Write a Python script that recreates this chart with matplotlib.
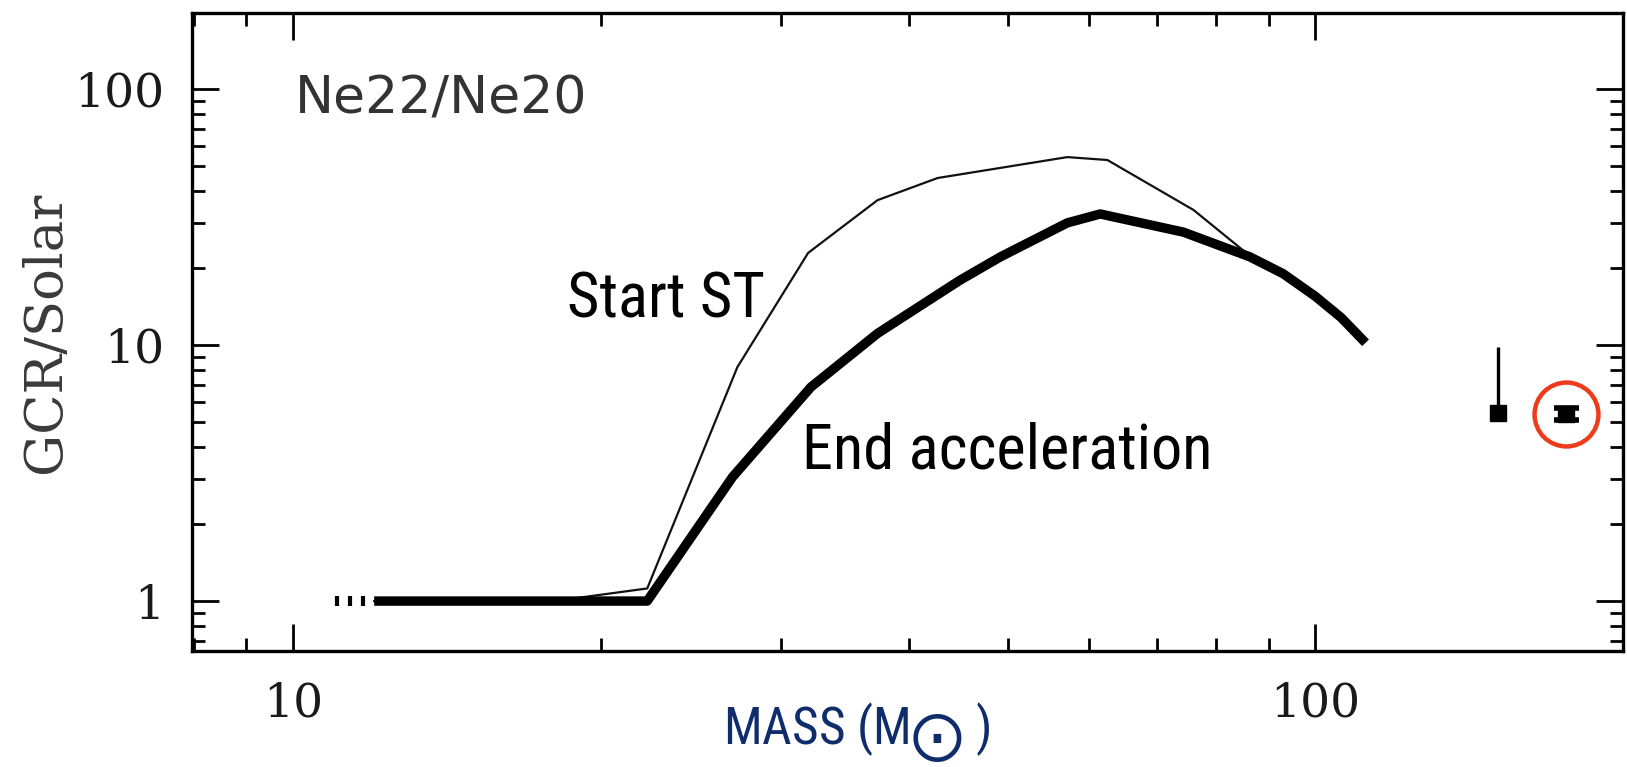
import matplotlib
matplotlib.use("Agg")
import numpy as np
import matplotlib.pyplot as plt
from matplotlib.ticker import FixedLocator, LogLocator, NullFormatter

# Ne22/Ne20 enrichment (GCR/solar) versus initial stellar mass
lead_mass = [11.04, 11.37, 11.70]
lead_ratio = [1.0, 1.0, 1.0]

start_mass = [12.0, 18.0, 22.2, 27.2, 31.9, 37.3, 42.7, 57.2, 62.6, 76.0, 86.3]
start_ratio = [1.0, 1.0, 1.12, 8.2, 22.9, 36.8, 44.9, 54.2, 52.8, 33.7, 22.3]

end_mass = [12.0, 22.2, 26.9, 32.1, 37.3, 44.9, 49.2, 57.2, 61.6,
            74.3, 86.3, 93.0, 100.0, 106.0, 112.0]
end_ratio = [1.0, 1.0, 3.05, 6.85, 11.1, 17.9, 22.1, 30.0, 32.5,
             27.6, 22.1, 19.0, 15.5, 12.8, 10.2]

# measured points: one with an upper bar, one with error bars (circled)
limit_mass, limit_ratio, limit_top = 151.0, 5.43, 9.8
meas_mass, meas_ratio, meas_lo, meas_hi = 176.0, 5.38, 0.27, 0.30

x_ticks = [10, 100]
x_tick_labels = ["10", "100"]
y_ticks = [1, 10, 100]
y_tick_labels = ["1", "10", "100"]

NARROW = dict(family=["Roboto Condensed", "Liberation Sans Narrow", "DejaVu Sans"],
              stretch="condensed")
plt.rcParams["mathtext.fontset"] = "dejavusans"

fig = plt.figure(figsize=(16.27, 7.67), dpi=100)
ax = fig.add_axes([0.1180, 0.1512, 0.8795, 0.8318])
ax.set_xscale("log")
ax.set_yscale("log")
ax.set_xlim(7.96, 200)
ax.set_ylim(0.638, 198)

ax.plot(lead_mass, lead_ratio, ls="none", marker="|", ms=7.2, mew=3.0, color="black")
ax.plot(start_mass, start_ratio, color="#111111", lw=1.6, zorder=2)
ax.plot(end_mass, end_ratio, color="black", lw=6.8, solid_capstyle="butt", zorder=3)

ax.errorbar([limit_mass], [limit_ratio], yerr=[[0], [limit_top - limit_ratio]],
            fmt="s", color="black", ms=12, elinewidth=2.4, capsize=0)
ax.errorbar([meas_mass], [meas_ratio], yerr=[[meas_lo], [meas_hi]],
            fmt="s", color="black", ms=12, elinewidth=4, capsize=9, capthick=4)
ax.plot([meas_mass], [meas_ratio], "o", ms=46, mfc="none", mec="#EE3B1B", mew=3.2)

# ticks on all four sides, pointing inward
ax.xaxis.set_major_locator(FixedLocator(x_ticks))
ax.yaxis.set_major_locator(FixedLocator(y_ticks))
ax.xaxis.set_minor_locator(LogLocator(base=10, subs=np.arange(2, 10), numticks=20))
ax.yaxis.set_minor_locator(LogLocator(base=10, subs=np.arange(2, 10), numticks=20))
ax.xaxis.set_minor_formatter(NullFormatter())
ax.yaxis.set_minor_formatter(NullFormatter())
ax.set_xticklabels(x_tick_labels)
ax.set_yticklabels(y_tick_labels)
ax.tick_params(which="both", direction="in", top=True, right=True, width=2.0, color="black")
ax.tick_params(which="major", length=19.5)
ax.tick_params(which="minor", length=9.5)
ax.tick_params(axis="x", which="major", pad=22)
ax.tick_params(axis="y", which="major", pad=20)
for lab in ax.get_xticklabels() + ax.get_yticklabels():
    lab.set_fontfamily("DejaVu Serif")
    lab.set_fontsize(34)
    lab.set_color("#1a1a1a")
for sp in ax.spines.values():
    sp.set_linewidth(2.4)

ax.set_ylabel("GCR/Solar", family="DejaVu Serif", fontsize=38, color="#3a3a3a")
ax.yaxis.set_label_coords(-0.0846, 0.5)
ax.set_xlabel(r"MASS (M$_{\bigodot}$ )", fontsize=37, color="#0F2C6B",
              ha="left", va="baseline", **NARROW)
ax.xaxis.set_label_coords(0.371, -0.147)

ax.text(0.072, 0.843, "Ne22/Ne20", transform=ax.transAxes, family="DejaVu Sans",
        fontsize=37.5, color="#333333", ha="left", va="baseline")
ax.text(0.262, 0.522, "Start ST", transform=ax.transAxes, fontsize=45,
        color="black", ha="left", va="baseline", **NARROW)
ax.text(0.4263, 0.2868, "End acceleration", transform=ax.transAxes, fontsize=45,
        color="black", ha="left", va="baseline", **NARROW)

fig.savefig("out.png", dpi=100, facecolor="white")
